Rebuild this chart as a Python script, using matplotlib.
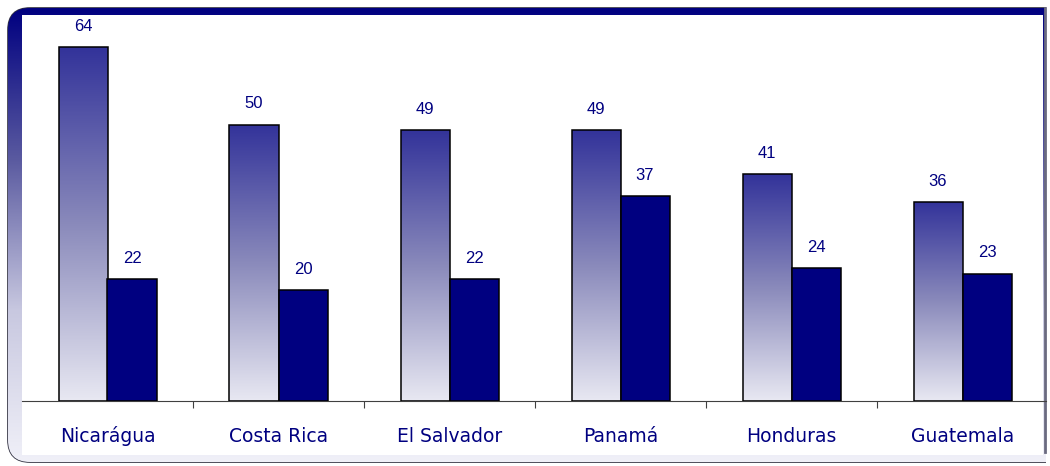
import numpy as np
import matplotlib
matplotlib.use("Agg")
import matplotlib.pyplot as plt
from matplotlib.patches import FancyBboxPatch, Rectangle
from matplotlib.colors import LinearSegmentedColormap

countries = ["Nicarágua", "Costa Rica", "El Salvador", "Panamá", "Honduras", "Guatemala"]
serie_a = [64, 50, 49, 49, 41, 36]
serie_b = [22, 20, 22, 37, 24, 23]

W, H = 1050, 466
fig = plt.figure(figsize=(W / 100, H / 100), dpi=100)

# background frame, drawn in pixel coordinates
bg = fig.add_axes([0, 0, 1, 1], zorder=0)
bg.set_xlim(0, W)
bg.set_ylim(H, 0)
bg.axis("off")
frame_cmap = LinearSegmentedColormap.from_list("frame", ["#000080", "#5a5aa0", "#c8c8e0", "#f0f0f8"])
outer = FancyBboxPatch((18, 18), 1060, 434, boxstyle="round,pad=10,rounding_size=22",
                       facecolor="none", edgecolor="#303040", linewidth=1.2)
bg.add_patch(outer)
grad = np.linspace(0, 1, 256).reshape(-1, 1)
im = bg.imshow(grad, cmap=frame_cmap, extent=(8, 1090, 462, 8), aspect="auto", zorder=1)
im.set_clip_path(outer)
bg.add_patch(Rectangle((22, 15), 1021, 440, facecolor="white", edgecolor="none", zorder=2))
bg.add_patch(Rectangle((1046, 0), 10, H, facecolor="white", edgecolor="none", zorder=3))
bg.plot([1045, 1045], [8, 452], color="#6a6a80", lw=2, zorder=4)

# chart area
px = 5.53
ax = fig.add_axes([22 / W, 65 / H, 1024 / W, 386 / H], zorder=1)
ax.patch.set_alpha(0)
ax.set_xlim(0, 1024 / 171)
ax.set_ylim(0, 386 / px)

bar_w = 49 / 171
x = np.arange(len(countries)) + 0.5
bar_cmap = LinearSegmentedColormap.from_list("bar", ["#e8e8f2", "#8a8abb", "#33339a"])
bars_a = ax.bar(x - bar_w / 2, serie_a, bar_w, facecolor="none", edgecolor="black", linewidth=1.1, zorder=3)
for b in bars_a:
    x0, w, h = b.get_x(), b.get_width(), b.get_height()
    g = ax.imshow(np.linspace(0, 1, 256).reshape(-1, 1), cmap=bar_cmap, origin="lower",
                  extent=(x0, x0 + w, 0, h), aspect="auto", zorder=2)
    g.set_clip_path(b)
bars_b = ax.bar(x + bar_w / 2, serie_b, bar_w, color="#000080", edgecolor="black", linewidth=1.1, zorder=3)

for bars in (bars_a, bars_b):
    for b in bars:
        ax.annotate(f"{b.get_height():.0f}", (b.get_x() + b.get_width() / 2, b.get_height()),
                    xytext=(0, 15), textcoords="offset points", ha="center", va="center",
                    color="#000080", fontsize=12, family="Liberation Sans")

for s in ["left", "right", "top"]:
    ax.spines[s].set_visible(False)
ax.spines["bottom"].set_color("#404040")
ax.set_yticks([])
ax.set_xticks(np.arange(1, 6))
ax.set_xticklabels([])
ax.tick_params(axis="x", length=5, color="#404040")
for xi, name in zip(x, countries):
    ax.text(xi, -41 / px, name, ha="center", va="baseline", color="#000080", fontsize=13.5,
            family="DejaVu Sans")

fig.savefig("out.png", dpi=100)
